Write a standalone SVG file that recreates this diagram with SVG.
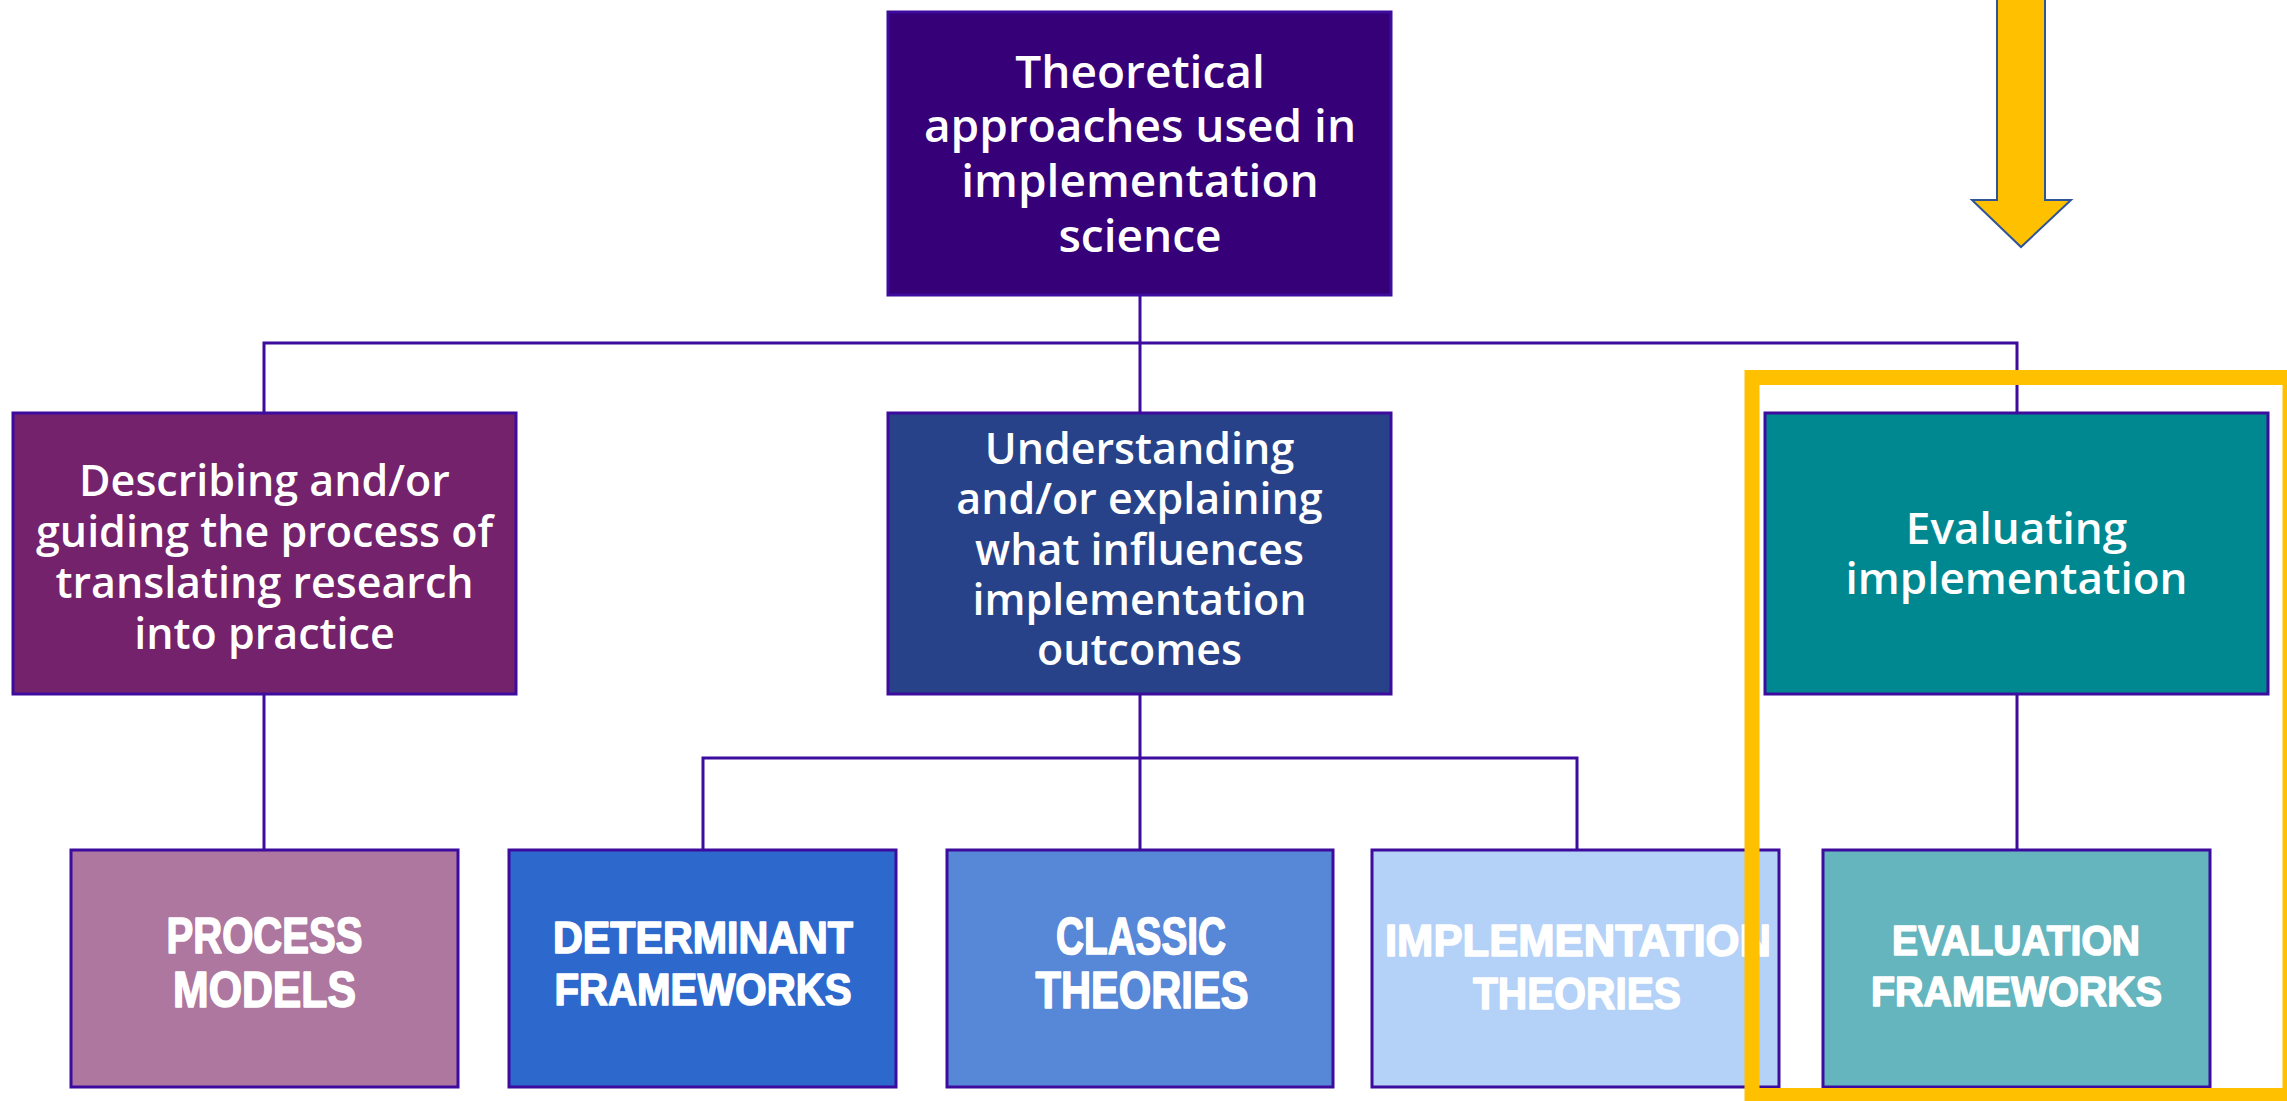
<svg xmlns="http://www.w3.org/2000/svg" width="2287" height="1101" viewBox="0 0 2287 1101">
<style>
.box{stroke:#3D0C9E;stroke-width:3}
.conn{stroke:#3D0C9E;stroke-width:3;fill:none}
.t1{font-family:"Open Sans","Noto Sans",sans-serif;font-weight:600;fill:#FFFFFF;text-anchor:middle}
.t2{font-family:"Liberation Sans",Arial,sans-serif;font-weight:700;fill:#FFFFFF;stroke:#FFFFFF;stroke-width:1.6;stroke-linejoin:round;text-anchor:middle}
</style>
<rect width="2287" height="1101" fill="#FFFFFF"/>
<g id="connectors">
<path class="conn" d="M1140,295 V343 M264,413 V343 H2017 V413 M1140,343 V413"/>
<path class="conn" d="M264,694 V850"/>
<path class="conn" d="M1140,694 V850 M703,850 V758 H1577 V850"/>
<path class="conn" d="M2017,694 V850"/>
</g>
<g id="root">
<rect class="box" x="888" y="12" width="503" height="283" fill="#360078"/>
<text class="t1" font-size="46" x="1140" y="88">Theoretical</text>
<text class="t1" font-size="46" x="1140" y="142">approaches used in</text>
<text class="t1" font-size="46" x="1140" y="197">implementation</text>
<text class="t1" font-size="46" x="1140" y="252">science</text>
</g>
<g id="describing">
<rect class="box" x="13" y="413" width="503" height="281" fill="#74226C"/>
<text class="t1" font-size="43" x="264.5" y="496">Describing and/or</text>
<text class="t1" font-size="43" x="264.5" y="547">guiding the process of</text>
<text class="t1" font-size="43" x="264.5" y="598">translating research</text>
<text class="t1" font-size="43" x="264.5" y="649">into practice</text>
</g>
<g id="understanding">
<rect class="box" x="888" y="413" width="503" height="281" fill="#274288"/>
<text class="t1" font-size="43" x="1139.5" y="464">Understanding</text>
<text class="t1" font-size="43" x="1139.5" y="514">and/or explaining</text>
<text class="t1" font-size="43" x="1139.5" y="565">what influences</text>
<text class="t1" font-size="43" x="1139.5" y="615">implementation</text>
<text class="t1" font-size="43" x="1139.5" y="665">outcomes</text>
</g>
<g id="evaluating">
<rect class="box" x="1765" y="413" width="503" height="281" fill="#008891"/>
<text class="t1" font-size="44" x="2016.5" y="544">Evaluating</text>
<text class="t1" font-size="44" x="2016.5" y="594">implementation</text>
</g>
<g id="process-models">
<rect class="box" x="71" y="850" width="387" height="237" fill="#AD77A0"/>
<text class="t2" font-size="50" x="264.5" y="953" textLength="196" lengthAdjust="spacingAndGlyphs">PROCESS</text>
<text class="t2" font-size="50" x="264.5" y="1007" textLength="183" lengthAdjust="spacingAndGlyphs">MODELS</text>
</g>
<g id="determinant-frameworks">
<rect class="box" x="509" y="850" width="387" height="237" fill="#2D69CD"/>
<text class="t2" font-size="45" x="703" y="953" textLength="300" lengthAdjust="spacingAndGlyphs">DETERMINANT</text>
<text class="t2" font-size="45" x="703" y="1005" textLength="297" lengthAdjust="spacingAndGlyphs">FRAMEWORKS</text>
</g>
<g id="classic-theories">
<rect class="box" x="947" y="850" width="386" height="237" fill="#5787D7"/>
<text class="t2" font-size="52" x="1141" y="954" textLength="170" lengthAdjust="spacingAndGlyphs">CLASSIC</text>
<text class="t2" font-size="52" x="1142" y="1008" textLength="213" lengthAdjust="spacingAndGlyphs">THEORIES</text>
</g>
<g id="implementation-theories">
<rect class="box" x="1372" y="850" width="407" height="237" fill="#B4D1F7"/>
<text class="t2" font-size="45" x="1578" y="956" textLength="386" lengthAdjust="spacingAndGlyphs">IMPLEMENTATION</text>
<text class="t2" font-size="45" x="1577" y="1009" textLength="208" lengthAdjust="spacingAndGlyphs">THEORIES</text>
</g>
<g id="evaluation-frameworks">
<rect class="box" x="1823" y="850" width="387" height="237" fill="#65B5BE"/>
<text class="t2" font-size="43" x="2016" y="955" textLength="248" lengthAdjust="spacingAndGlyphs">EVALUATION</text>
<text class="t2" font-size="43" x="2016.5" y="1006" textLength="291" lengthAdjust="spacingAndGlyphs">FRAMEWORKS</text>
</g>
<g id="highlight">
<rect x="1752" y="377.5" width="538" height="718" fill="none" stroke="#FFC000" stroke-width="15"/>
</g>
<g id="arrow">
<polygon points="1997,-5 2045,-5 2045,200 2071,200 2021,247 1972,200 1997,200" fill="#FFC000" stroke="#2F5597" stroke-width="2"/>
</g>
</svg>
